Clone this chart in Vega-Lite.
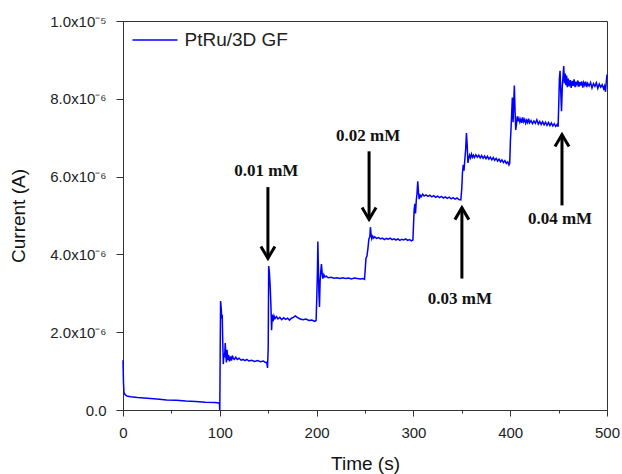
{
  "$schema": "https://vega.github.io/schema/vega-lite/v6.json",
  "autosize": "none",
  "width": 484,
  "height": 389,
  "padding": {"left": 123, "top": 21, "right": 15, "bottom": 64},
  "background": "white",
  "config": {
    "view": {"stroke": "#333", "strokeWidth": 1},
    "axis": {
      "grid": false,
      "labelFont": "Liberation Sans",
      "labelFontSize": 15,
      "labelColor": "#222",
      "labelFlush": false,
      "titleFont": "Liberation Sans",
      "titleFontSize": 19,
      "titleFontWeight": "normal",
      "titleColor": "#111",
      "domainColor": "#333",
      "tickColor": "#333",
      "domainWidth": 1,
      "tickWidth": 1
    }
  },
  "datasets": {
    "trace": [
      {"t":0,"i":1.28},{"t":0.5,"i":0.7},{"t":1,"i":0.45},{"t":2,"i":0.40},{"t":4,"i":0.36},{"t":8,"i":0.34},{"t":15,"i":0.32},{"t":25,"i":0.30},{"t":35,"i":0.28},{"t":45,"i":0.26},{"t":55,"i":0.25},{"t":65,"i":0.23},{"t":75,"i":0.22},{"t":85,"i":0.20},{"t":95,"i":0.19},{"t":99,"i":0.18},{"t":99.6,"i":0.16},{"t":100,"i":0.0},
      {"t":100.4,"i":1.5},{"t":100.8,"i":2.8},{"t":101.5,"i":2.6},{"t":102,"i":2.35},{"t":102.5,"i":2.45},{"t":103,"i":1.8},{"t":103.6,"i":1.18},{"t":104.3,"i":1.45},{"t":105,"i":1.35},{"t":105.6,"i":1.72},{"t":106.2,"i":1.45},{"t":106.8,"i":1.22},{"t":107.5,"i":1.55},{"t":108.2,"i":1.28},{"t":109,"i":1.42},{"t":110,"i":1.25},{"t":111,"i":1.38},{"t":112,"i":1.27},{"t":113,"i":1.40},{"t":114,"i":1.32},{"t":115,"i":1.30},{"t":116.5,"i":1.36},{"t":118,"i":1.30},{"t":120,"i":1.33},{"t":122,"i":1.28},{"t":124,"i":1.30},{"t":126,"i":1.27},{"t":128,"i":1.30},{"t":130,"i":1.26},{"t":133,"i":1.28},{"t":136,"i":1.25},{"t":139,"i":1.27},{"t":142,"i":1.24},{"t":145,"i":1.26},{"t":147,"i":1.22},{"t":148.5,"i":1.23},{"t":149.3,"i":1.08},
      {"t":150,"i":1.6},{"t":150.5,"i":3.7},{"t":151.2,"i":3.55},{"t":152,"i":3.2},{"t":152.8,"i":2.7},{"t":153.5,"i":2.05},{"t":154.2,"i":2.45},{"t":155,"i":2.28},{"t":156,"i":2.42},{"t":157,"i":2.35},{"t":158.5,"i":2.40},{"t":160,"i":2.34},{"t":162,"i":2.38},{"t":164,"i":2.32},{"t":166,"i":2.37},{"t":168,"i":2.33},{"t":170,"i":2.36},{"t":172,"i":2.31},{"t":174,"i":2.36},{"t":176,"i":2.38},{"t":178,"i":2.42},{"t":180,"i":2.38},{"t":183,"i":2.34},{"t":186,"i":2.32},{"t":189,"i":2.34},{"t":192,"i":2.30},{"t":195,"i":2.31},{"t":198,"i":2.28},{"t":199.5,"i":2.30},
      {"t":200.2,"i":2.9},{"t":200.8,"i":3.5},{"t":201.3,"i":4.33},{"t":201.8,"i":3.7},{"t":202.4,"i":3.0},{"t":203,"i":2.65},{"t":203.6,"i":3.3},{"t":204.3,"i":3.55},{"t":205,"i":3.75},{"t":205.8,"i":3.5},{"t":206.5,"i":3.38},{"t":207.5,"i":3.48},{"t":208.5,"i":3.42},{"t":210,"i":3.44},{"t":212,"i":3.40},{"t":215,"i":3.41},{"t":218,"i":3.39},{"t":221,"i":3.40},{"t":224,"i":3.38},{"t":227,"i":3.40},{"t":230,"i":3.38},{"t":233,"i":3.39},{"t":236,"i":3.37},{"t":239,"i":3.39},{"t":242,"i":3.38},{"t":245,"i":3.37},{"t":248,"i":3.38},{"t":249.5,"i":3.36},
      {"t":250.2,"i":3.6},{"t":251,"i":3.9},{"t":252,"i":3.95},{"t":253,"i":4.15},{"t":254,"i":4.4},{"t":255,"i":4.45},{"t":255.6,"i":4.70},{"t":256.3,"i":4.5},{"t":257,"i":4.40},{"t":258,"i":4.47},{"t":259,"i":4.42},{"t":260,"i":4.45},{"t":262,"i":4.41},{"t":264,"i":4.43},{"t":266,"i":4.40},{"t":268,"i":4.42},{"t":270,"i":4.38},{"t":272,"i":4.41},{"t":274,"i":4.39},{"t":276,"i":4.42},{"t":278,"i":4.38},{"t":280,"i":4.40},{"t":282,"i":4.37},{"t":284,"i":4.40},{"t":286,"i":4.36},{"t":288,"i":4.39},{"t":290,"i":4.37},{"t":292,"i":4.40},{"t":294,"i":4.36},{"t":296,"i":4.38},{"t":298,"i":4.35},{"t":299.5,"i":4.37},
      {"t":300.2,"i":4.8},{"t":300.8,"i":5.15},{"t":301.5,"i":5.3},{"t":302.2,"i":5.05},{"t":303,"i":5.4},{"t":303.7,"i":5.55},{"t":304.5,"i":5.88},{"t":305.2,"i":5.6},{"t":306,"i":5.42},{"t":307,"i":5.52},{"t":308,"i":5.48},{"t":309.5,"i":5.55},{"t":311,"i":5.50},{"t":313,"i":5.53},{"t":315,"i":5.49},{"t":317,"i":5.52},{"t":319,"i":5.48},{"t":321,"i":5.51},{"t":323,"i":5.47},{"t":325,"i":5.50},{"t":327,"i":5.46},{"t":329,"i":5.49},{"t":331,"i":5.45},{"t":333,"i":5.48},{"t":335,"i":5.44},{"t":337,"i":5.47},{"t":339,"i":5.43},{"t":341,"i":5.46},{"t":343,"i":5.42},{"t":345,"i":5.45},{"t":347,"i":5.41},{"t":349,"i":5.40},
      {"t":350,"i":5.7},{"t":350.7,"i":6.1},{"t":351.5,"i":6.3},{"t":352.3,"i":6.15},{"t":353,"i":6.4},{"t":354,"i":6.7},{"t":354.8,"i":7.12},{"t":355.6,"i":6.8},{"t":356.3,"i":6.35},{"t":357,"i":6.45},{"t":358,"i":6.55},{"t":359,"i":6.48},{"t":360,"i":6.58},{"t":361,"i":6.50},{"t":362,"i":6.55},{"t":363,"i":6.49},{"t":364.5,"i":6.56},{"t":366,"i":6.50},{"t":367.5,"i":6.55},{"t":369,"i":6.48},{"t":370.5,"i":6.54},{"t":372,"i":6.47},{"t":373.5,"i":6.53},{"t":375,"i":6.46},{"t":376.5,"i":6.52},{"t":378,"i":6.45},{"t":379.5,"i":6.50},{"t":381,"i":6.43},{"t":382.5,"i":6.49},{"t":384,"i":6.42},{"t":385.5,"i":6.47},{"t":387,"i":6.40},{"t":388.5,"i":6.45},{"t":390,"i":6.38},{"t":391.5,"i":6.43},{"t":393,"i":6.36},{"t":394.5,"i":6.41},{"t":396,"i":6.34},{"t":397.5,"i":6.38},{"t":398.7,"i":6.30},{"t":399.5,"i":6.35},
      {"t":400.2,"i":6.9},{"t":400.8,"i":7.2},{"t":401.5,"i":7.6},{"t":402.2,"i":8.03},{"t":403,"i":7.4},{"t":403.6,"i":7.9},{"t":404.3,"i":8.34},{"t":405,"i":7.7},{"t":405.7,"i":7.2},{"t":406.5,"i":7.35},{"t":407.3,"i":7.55},{"t":408,"i":7.42},{"t":409,"i":7.50},{"t":410,"i":7.40},{"t":411,"i":7.48},{"t":412,"i":7.38},{"t":413,"i":7.52},{"t":414,"i":7.41},{"t":415,"i":7.47},{"t":416,"i":7.37},{"t":417,"i":7.45},{"t":418,"i":7.39},{"t":419,"i":7.49},{"t":420,"i":7.38},{"t":421.5,"i":7.44},{"t":423,"i":7.36},{"t":424.5,"i":7.43},{"t":426,"i":7.37},{"t":427.5,"i":7.46},{"t":429,"i":7.35},{"t":430.5,"i":7.42},{"t":432,"i":7.34},{"t":433.5,"i":7.41},{"t":435,"i":7.33},{"t":436.5,"i":7.40},{"t":438,"i":7.32},{"t":439.5,"i":7.39},{"t":441,"i":7.31},{"t":442.5,"i":7.38},{"t":444,"i":7.30},{"t":445.5,"i":7.36},{"t":447,"i":7.29},{"t":448.5,"i":7.34},{"t":449.5,"i":7.28},
      {"t":450.2,"i":7.9},{"t":450.8,"i":8.5},{"t":451.5,"i":8.72},{"t":452.2,"i":8.2},{"t":453,"i":7.68},{"t":453.8,"i":8.3},{"t":454.5,"i":8.55},{"t":455.3,"i":8.84},{"t":456,"i":8.4},{"t":456.8,"i":8.65},{"t":457.5,"i":8.35},{"t":458.3,"i":8.6},{"t":459,"i":8.30},{"t":460,"i":8.52},{"t":461,"i":8.32},{"t":462,"i":8.48},{"t":463,"i":8.28},{"t":464,"i":8.46},{"t":465,"i":8.33},{"t":466,"i":8.50},{"t":467,"i":8.30},{"t":468,"i":8.44},{"t":469,"i":8.36},{"t":470,"i":8.47},{"t":471,"i":8.31},{"t":472,"i":8.43},{"t":473,"i":8.34},{"t":474,"i":8.45},{"t":475,"i":8.29},{"t":476,"i":8.42},{"t":477,"i":8.35},{"t":478,"i":8.44},{"t":479,"i":8.30},{"t":480,"i":8.40},{"t":481.5,"i":8.33},{"t":483,"i":8.42},{"t":484.5,"i":8.28},{"t":486,"i":8.39},{"t":487.5,"i":8.32},{"t":489,"i":8.41},{"t":490.5,"i":8.27},{"t":492,"i":8.38},{"t":493.5,"i":8.30},{"t":495,"i":8.36},{"t":496.5,"i":8.26},{"t":497.5,"i":8.33},{"t":498.5,"i":8.18},{"t":499.3,"i":8.45},{"t":500,"i":8.62}
    ],
    "arrows": [
      {"label":"0.01 mM","t":149.7,"tail":5.73,"tip":3.90,"dir":"down","lt":148,"ly":6.14},
      {"label":"0.02 mM","t":254.2,"tail":6.65,"tip":4.90,"dir":"down","lt":253.2,"ly":7.04},
      {"label":"0.03 mM","t":350.1,"tail":3.38,"tip":5.20,"dir":"up","lt":348,"ly":2.86},
      {"label":"0.04 mM","t":453.5,"tail":5.26,"tip":7.08,"dir":"up","lt":451.5,"ly":4.90}
    ]
  },
  "layer": [
    {
      "data": {"name": "trace"},
      "mark": {"type": "line", "strokeWidth": 1.5, "interpolate": "linear"},
      "encoding": {
        "x": {
          "field": "t", "type": "quantitative",
          "scale": {"domain": [0, 500], "nice": false, "zero": false},
          "axis": {
            "title": "Time (s)",
            "values": [0,50,100,150,200,250,300,350,400,450,500],
            "labelExpr": "datum.value % 100 === 0 ? datum.label : ''",
            "tickSize": {"condition": {"test": "datum.value % 100 === 0", "value": 6}, "value": 3},
            "labelPadding": 9,
            "titlePadding": 14
          }
        },
        "y": {
          "field": "i", "type": "quantitative",
          "scale": {"domain": [0, 10], "nice": false},
          "axis": {
            "title": "Current (A)",
            "values": [0,1,2,3,4,5,6,7,8,9,10],
            "labelExpr": "datum.value === 0 ? '0.0' : (datum.value === 10 ? '1.0x10⁻⁵' : (datum.value % 2 === 0 ? format(datum.value, '.1f') + 'x10⁻⁶' : ''))",
            "tickSize": {"condition": {"test": "datum.value % 2 === 0", "value": 7}, "value": 4},
            "labelPadding": 10,
            "titlePadding": 21
          }
        },
        "color": {
          "datum": "PtRu/3D GF",
          "scale": {"range": ["#0000ff"]},
          "legend": {
            "title": null,
            "orient": "none",
            "legendX": 8.5,
            "legendY": -4.5,
            "padding": 0,
            "symbolType": "stroke",
            "symbolSize": 2025,
            "symbolStrokeWidth": 1.5,
            "labelFont": "Liberation Sans",
            "labelFontSize": 19,
            "labelColor": "#222",
            "labelOffset": 6
          }
        }
      }
    },
    {
      "data": {"name": "arrows"},
      "mark": {"type": "rule", "strokeWidth": 3, "color": "black"},
      "encoding": {
        "x": {"field": "t", "type": "quantitative"},
        "y": {"field": "tail", "type": "quantitative"},
        "y2": {"field": "tip"}
      }
    },
    {
      "data": {"name": "arrows"},
      "mark": {"type": "point", "filled": false, "stroke": "black", "strokeWidth": 3, "size": 196, "strokeJoin": "miter", "opacity": 1},
      "encoding": {
        "x": {"field": "t", "type": "quantitative"},
        "y": {"field": "tip", "type": "quantitative"},
        "shape": {
          "field": "dir", "type": "nominal",
          "scale": {"domain": ["down", "up"], "range": ["M -1 -1.7 L 0 0 L 1 -1.7", "M -1 1.7 L 0 0 L 1 1.7"]},
          "legend": null
        }
      }
    },
    {
      "data": {"name": "arrows"},
      "mark": {"type": "text", "font": "Liberation Serif", "fontWeight": "bold", "fontSize": 17, "color": "#111", "align": "center", "baseline": "middle"},
      "encoding": {
        "x": {"field": "lt", "type": "quantitative"},
        "y": {"field": "ly", "type": "quantitative"},
        "text": {"field": "label"}
      }
    }
  ]
}
